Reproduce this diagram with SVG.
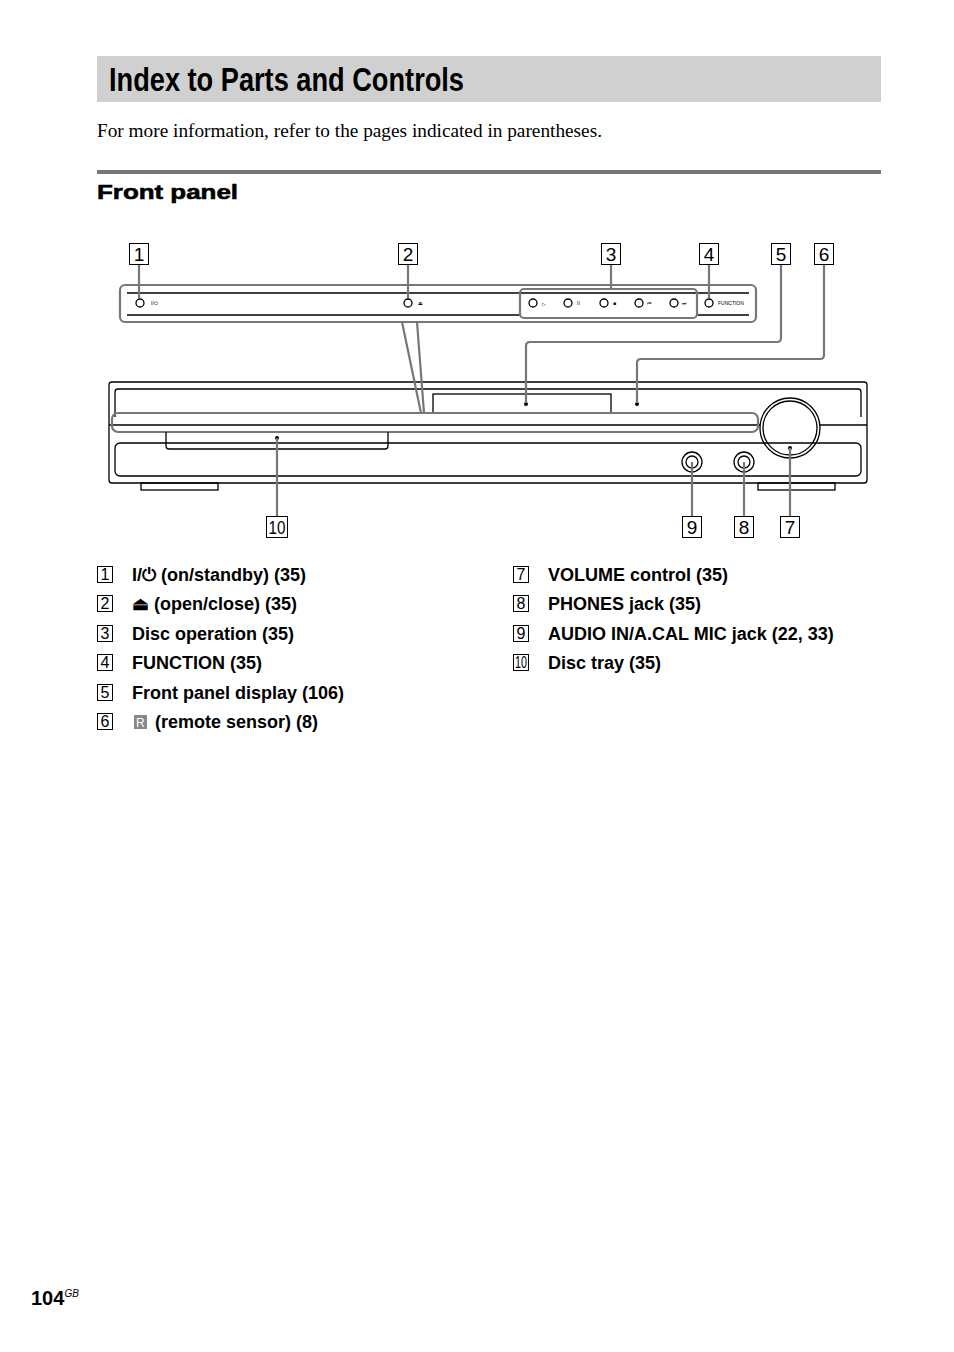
<svg xmlns="http://www.w3.org/2000/svg" width="954" height="1352" viewBox="0 0 954 1352">
<style>
.s{fill:none;stroke:#000;stroke-width:1.3}
.g{fill:none;stroke:#777;stroke-width:2.2}
.nb{fill:#fff;stroke:#000;stroke-width:1}
.nt{font-family:"Liberation Sans",sans-serif;font-size:19px;text-anchor:middle}
.li{font-family:"Liberation Sans",sans-serif;font-size:18px;font-weight:bold}
.lb{font-family:"Liberation Sans",sans-serif;font-size:16px;text-anchor:middle}
.tiny{font-family:"Liberation Sans",sans-serif;font-size:5px}
.d{fill:#000}
</style>
<rect width="954" height="1352" fill="#fff"/>
<rect x="97" y="56" width="784" height="46" fill="#d0d0d0"/>
<text x="109" y="91" font-family="Liberation Sans,sans-serif" font-size="33" font-weight="bold" textLength="355" lengthAdjust="spacingAndGlyphs">Index to Parts and Controls</text>
<text x="97" y="137" font-family="Liberation Serif,serif" font-size="18" textLength="505" lengthAdjust="spacingAndGlyphs">For more information, refer to the pages indicated in parentheses.</text>
<rect x="97" y="170" width="784" height="4" fill="#777"/>
<text x="97" y="199" font-family="Liberation Sans,sans-serif" font-size="21" font-weight="bold" stroke="#000" stroke-width="0.6" textLength="141" lengthAdjust="spacingAndGlyphs">Front panel</text>

<g id="panel">
<rect x="120" y="285" width="636" height="37" rx="5" class="g"/>
<line x1="127" y1="293" x2="749" y2="293" class="s"/>
<line x1="127" y1="315" x2="520" y2="315" class="s"/>
<line x1="697" y1="315" x2="749" y2="315" class="s"/>
<rect x="520" y="289" width="177" height="29" rx="4" class="g"/>
<circle cx="140" cy="303" r="4" class="s" stroke-width="2"/><text x="151" y="305" class="tiny">I/⏻</text>
<circle cx="408" cy="303" r="4" class="s" stroke-width="2"/><text x="418" y="305" class="tiny">⏏</text>
<circle cx="533" cy="303" r="4" class="s" stroke-width="2"/><text x="542" y="306" class="tiny">▷</text>
<circle cx="568" cy="303" r="4" class="s" stroke-width="2"/><text x="577" y="305" class="tiny">II</text>
<circle cx="604" cy="303" r="4" class="s" stroke-width="2"/><text x="613" y="305" class="tiny">■</text>
<circle cx="639" cy="303" r="4" class="s" stroke-width="2"/><text x="647" y="305" class="tiny">⏮</text>
<circle cx="674" cy="303" r="4" class="s" stroke-width="2"/><text x="682" y="305" class="tiny">⏭</text>
<circle cx="709" cy="303" r="4" class="s" stroke-width="2"/><text x="718" y="305" class="tiny" font-size="4">FUNCTION</text>
</g>

<g id="unit">
<rect x="109" y="382" width="758" height="101" rx="3" class="s" stroke-width="2"/>
<path d="M115 417 V392 Q115 389 118 389 H858 Q861 389 861 392 V417" class="s"/>
<line x1="109" y1="425" x2="760" y2="425" class="s"/>
<line x1="820" y1="425" x2="867" y2="425" class="s"/>
<rect x="433" y="394" width="178" height="19" class="s"/>
<rect x="112" y="413" width="646" height="19" rx="6" class="g"/>
<path d="M166 432 V446 Q166 449 169 449 H385 Q388 449 388 446 V432" class="s"/>
<rect x="115" y="443" width="746" height="33" rx="5" class="s"/>
<circle cx="790" cy="428" r="30" class="s" fill="#fff"/>
<circle cx="790" cy="428" r="27" class="s"/>
<circle cx="692" cy="462" r="10" class="s" fill="#fff"/><circle cx="692" cy="462" r="6" class="s"/>
<circle cx="744" cy="462" r="10" class="s" fill="#fff"/><circle cx="744" cy="462" r="6" class="s"/>
<rect x="141" y="483" width="77" height="7" class="s"/>
<rect x="758" y="483" width="77" height="7" class="s"/>
<circle cx="277" cy="438" r="2" class="d"/><circle cx="526" cy="404" r="2" class="d"/><circle cx="637" cy="404" r="2" class="d"/><circle cx="790" cy="448" r="2" class="d"/>
</g>

<g id="connectors">
<line x1="139" y1="264" x2="139" y2="298" class="g"/>
<line x1="408" y1="264" x2="408" y2="298" class="g"/>
<line x1="611" y1="264" x2="611" y2="289" class="g"/>
<line x1="709" y1="264" x2="709" y2="298" class="g"/>
<path d="M781 264 V338 Q781 342 777 342 H530 Q526 342 526 346 V403" class="g"/>
<path d="M824 264 V355 Q824 359 820 359 H641 Q637 359 637 363 V403" class="g"/>
<line x1="402" y1="322" x2="421" y2="413" class="g"/>
<line x1="417" y1="322" x2="424" y2="413" class="g"/>
<line x1="277" y1="438" x2="277" y2="516" class="g"/>
<line x1="692" y1="462" x2="692" y2="516" class="g"/>
<line x1="744" y1="462" x2="744" y2="516" class="g"/>
<line x1="790" y1="448" x2="790" y2="516" class="g"/>
</g>

<g id="callouts">
<rect x="129.5" y="243.5" width="19" height="21" class="nb"/><text x="139" y="261" class="nt">1</text>
<rect x="398.5" y="243.5" width="19" height="21" class="nb"/><text x="408" y="261" class="nt">2</text>
<rect x="601.5" y="243.5" width="19" height="21" class="nb"/><text x="611" y="261" class="nt">3</text>
<rect x="699.5" y="243.5" width="19" height="21" class="nb"/><text x="709" y="261" class="nt">4</text>
<rect x="771.5" y="243.5" width="19" height="21" class="nb"/><text x="781" y="261" class="nt">5</text>
<rect x="814.5" y="243.5" width="19" height="21" class="nb"/><text x="824" y="261" class="nt">6</text>
<rect x="266.5" y="516.5" width="21" height="21" class="nb"/><text x="277" y="534" class="nt" textLength="17" lengthAdjust="spacingAndGlyphs">10</text>
<rect x="682.5" y="516.5" width="19" height="21" class="nb"/><text x="692" y="534" class="nt">9</text>
<rect x="734.5" y="516.5" width="19" height="21" class="nb"/><text x="744" y="534" class="nt">8</text>
<rect x="780.5" y="516.5" width="19" height="21" class="nb"/><text x="790" y="534" class="nt">7</text>
</g>

<g id="list">
<g stroke="#000" fill="none" stroke-width="1">
<rect x="97.5" y="566.5" width="15" height="16"/><rect x="97.5" y="595.5" width="15" height="16"/><rect x="97.5" y="625.5" width="15" height="16"/><rect x="97.5" y="654.5" width="15" height="16"/><rect x="97.5" y="684.5" width="15" height="16"/><rect x="97.5" y="713.5" width="15" height="16"/>
<rect x="513.5" y="566.5" width="15" height="16"/><rect x="513.5" y="595.5" width="15" height="16"/><rect x="513.5" y="625.5" width="15" height="16"/><rect x="513.5" y="654.5" width="15" height="16"/>
</g>
<text x="105" y="580" class="lb">1</text><text x="105" y="609" class="lb">2</text><text x="105" y="639" class="lb">3</text><text x="105" y="668" class="lb">4</text><text x="105" y="698" class="lb">5</text><text x="105" y="727" class="lb">6</text>
<text x="521" y="580" class="lb">7</text><text x="521" y="609" class="lb">8</text><text x="521" y="639" class="lb">9</text><text x="521" y="668" class="lb" textLength="12" lengthAdjust="spacingAndGlyphs">10</text>
<text x="132" y="581" class="li">I/⏻ (on/standby) (35)</text>
<text x="132" y="610" class="li">⏏ (open/close) (35)</text>
<text x="132" y="640" class="li">Disc operation (35)</text>
<text x="132" y="669" class="li">FUNCTION (35)</text>
<text x="132" y="699" class="li">Front panel display (106)</text>
<rect x="134" y="715" width="13" height="14" fill="#888"/><text x="136" y="727" font-family="Liberation Sans,sans-serif" font-size="12" fill="#fff">R</text>
<text x="155" y="728" class="li">(remote sensor) (8)</text>
<text x="548" y="581" class="li">VOLUME control (35)</text>
<text x="548" y="610" class="li">PHONES jack (35)</text>
<text x="548" y="640" class="li">AUDIO IN/A.CAL MIC jack (22, 33)</text>
<text x="548" y="669" class="li">Disc tray (35)</text>
</g>
<text x="31" y="1305" font-family="Liberation Sans,sans-serif" font-size="20" font-weight="bold">104<tspan font-size="10" font-style="italic" font-weight="normal" dy="-8">GB</tspan></text>
</svg>
